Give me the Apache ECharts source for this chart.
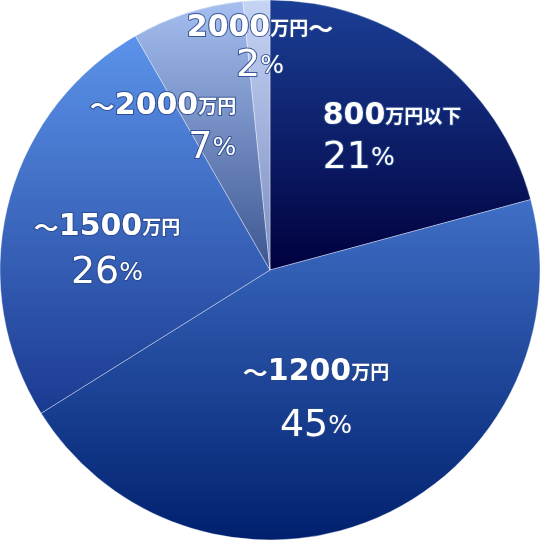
<!DOCTYPE html>
<html>
<head>
<meta charset="utf-8">
<script src="https://cdn.jsdelivr.net/npm/echarts@6/dist/echarts.min.js"></script>
<style>
  html, body { margin: 0; padding: 0; background: #fff; }
  #chart { width: 540px; height: 540px; }
</style>
</head>
<body>
<div id="chart"></div>
<script>
// 年収帯ごとの割合
const categories = ['800万円以下', '～1200万円', '～1500万円', '～2000万円', '2000万円～'];
// 扇形の大きさ（図から読んだ角度の割合）
const shares = [20.8, 45.3, 25.6, 6.7, 1.6];
// ラベルに出す数値
const percents = [21, 45, 26, 7, 2];

// 見た目の設定
const gradients = [
  ['#1b3f96', '#00003e'],
  ['#3f6fc6', '#00206e'],
  ['#5c93ea', '#1a3a90'],
  ['#a6bff0', '#3b5590'],
  ['#c6d4f4', '#7a8cc0']
];
// 円の中心からのずれと、1行目の行の高さ
const labelOffsets = [[122, -130], [46, 126], [-163, -19], [-107, -140], [-10, -218]];
const labelAligns = ['left', 'center', 'center', 'right', 'center'];
const firstLineHeights = [37, 60, 44, 36, 28];

const chart = echarts.init(document.getElementById('chart'));

// 「800万円以下」→ 数字・単位・～に分ける
function labelText(name, pct) {
  const parts = name.match(/^(～?)(\d+)(万円[^～]*)(～?)$/);
  let line1 = '';
  if (parts[1]) line1 += `{t|${parts[1]}}`;
  line1 += `{n|${parts[2]}}{u|${parts[3]}}`;
  if (parts[4]) line1 += `{t|${parts[4]}}`;
  return `${line1}\n{p|${pct}}{s|%}`;
}

function richFor(align, lh) {
  const base = {
    color: '#fff',
    textBorderColor: 'rgba(40, 70, 140, 0.85)',
    textBorderWidth: 2,
    align: align
  };
  const latin = '"DejaVu Sans", Verdana, sans-serif';
  const cjk = '"Noto Sans CJK JP", sans-serif';
  return {
    t: Object.assign({}, base, { fontFamily: cjk, fontSize: 25, fontWeight: 'bold', lineHeight: lh }),
    n: Object.assign({}, base, { fontFamily: latin, fontSize: 30, fontWeight: 'bold', lineHeight: lh }),
    u: Object.assign({}, base, { fontFamily: cjk, fontSize: 19, fontWeight: 'bold', lineHeight: lh }),
    p: Object.assign({}, base, { fontFamily: latin, fontSize: 38, fontWeight: 'normal', lineHeight: 48 }),
    s: Object.assign({}, base, { fontFamily: latin, fontSize: 25, fontWeight: 'normal', lineHeight: 48 })
  };
}

const seriesData = categories.map((name, i) => ({
  name: name,
  value: shares[i],
  itemStyle: {
    color: new echarts.graphic.LinearGradient(0, 0, 0, 1, [
      { offset: 0, color: gradients[i][0] },
      { offset: 1, color: gradients[i][1] }
    ])
  },
  label: {
    formatter: labelText(name, percents[i]),
    offset: labelOffsets[i],
    rich: richFor(labelAligns[i], firstLineHeights[i])
  }
}));

chart.setOption({
  animation: false,
  series: [{
    type: 'pie',
    center: [270, 270],
    radius: [0, 270],
    startAngle: 90,
    clockwise: true,
    avoidLabelOverlap: false,
    minShowLabelAngle: 0,
    itemStyle: {
      borderColor: 'rgba(255, 255, 255, 0.45)',
      borderWidth: 0.8
    },
    label: {
      show: true,
      position: 'center'
    },
    labelLayout: { hideOverlap: false },
    labelLine: { show: false },
    emphasis: { disabled: true },
    data: seriesData
  }]
});
</script>
</body>
</html>
